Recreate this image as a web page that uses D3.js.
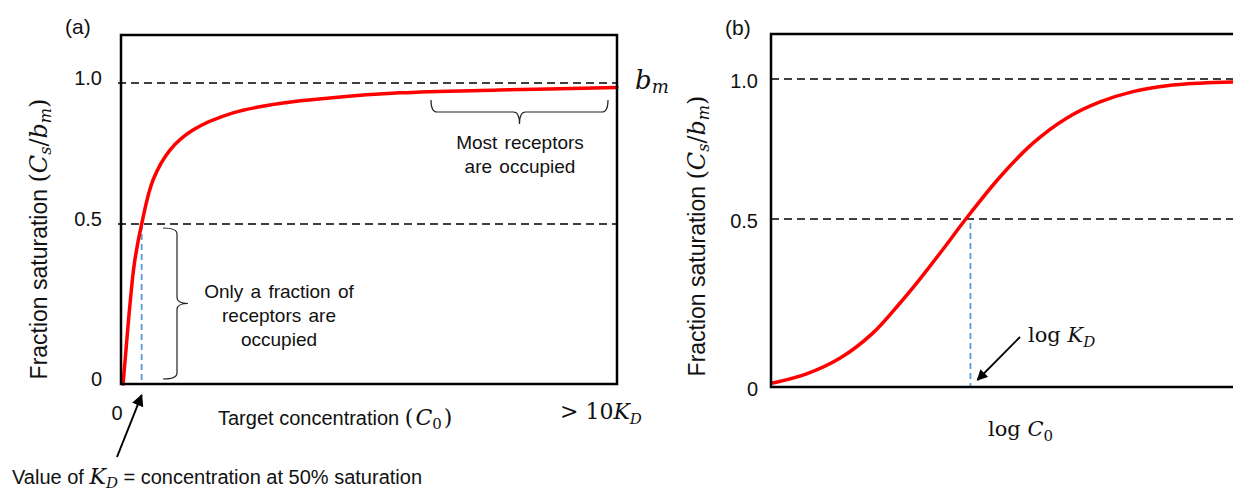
<!DOCTYPE html>
<html><head><meta charset="utf-8">
<script src="https://cdn.jsdelivr.net/npm/d3@7"></script>
<style>
html,body{margin:0;padding:0;background:#fff;}
svg{display:block;}
</style></head>
<body>
<svg id="c" width="1233" height="491"></svg>
<script>
// ---- data ----
const yTickValues = [0, 0.5, 1];
const yTickLabels = ["0", "0.5", "1.0"];
// panel (a): concentration in units of K_D vs fraction saturation
const curveA_x = [0.1, 0.27, 0.44, 0.65, 1.0, 1.55, 2.37, 3.48, 5.42, 7.84, 10.1, 13.5, 18.3, 24];
const curveA_y = [0, 0.128, 0.253, 0.378, 0.5, 0.656, 0.762, 0.833, 0.894, 0.929, 0.947, 0.965, 0.975, 0.984];
// panel (b): log C0 (relative to log K_D) vs fraction saturation
const curveB_x = [-1.47, -1.22, -0.97, -0.725, -0.524, -0.375, -0.204, -0.04, 0.22, 0.466, 0.719, 0.965, 1.21, 1.463, 1.71, 1.956];
const curveB_y = [0.012, 0.039, 0.086, 0.161, 0.25, 0.322, 0.41, 0.497, 0.65, 0.771, 0.861, 0.918, 0.955, 0.976, 0.985, 0.989];
const KD = 1;        // position of K_D in panel (a)
const logKD = 0;     // position of log K_D in panel (b)

const svg = d3.select("#c");
svg.append("rect").attr("width",1233).attr("height",491).attr("fill","#fff");
const SANS = "'Liberation Sans', Arial, sans-serif";
const SERIF = "'DejaVu Serif', 'Liberation Serif', serif";
const INK = "#111";

svg.append("defs").append("marker")
  .attr("id","arr").attr("viewBox","0 0 10 10").attr("refX",9).attr("refY",5)
  .attr("markerWidth",6).attr("markerHeight",6).attr("markerUnits","strokeWidth")
  .attr("orient","auto")
  .append("path").attr("d","M0,0 L10,5 L0,10 z").attr("fill","#000");

function braceH(x1, x2, y0, d, t, r){ // opens upward, tip points down
  const xm = (x1+x2)/2, y1 = y0+d;
  return `M${x1},${y0} Q${x1},${y1} ${x1+r},${y1} L${xm-r},${y1} Q${xm},${y1} ${xm},${y1+t} Q${xm},${y1} ${xm+r},${y1} L${x2-r},${y1} Q${x2},${y1} ${x2},${y0}`;
}
function braceV(y1, y2, x0, d, t, r){ // opens left, tip points right
  const ym = (y1+y2)/2, x1 = x0+d;
  return `M${x0},${y1} Q${x1},${y1} ${x1},${y1+r} L${x1},${ym-r} Q${x1},${ym} ${x1+t},${ym} Q${x1},${ym} ${x1},${ym+r} L${x1},${y2-r} Q${x1},${y2} ${x0},${y2}`;
}

function yLabel(g, cx, cy){
  const t = g.append("text").attr("transform",`translate(${cx},${cy}) rotate(-90)`)
    .attr("text-anchor","middle").attr("fill",INK);
  t.append("tspan").attr("font-family",SANS).attr("font-size",23).text("Fraction saturation ");
  t.append("tspan").attr("font-family",SERIF).attr("font-size",24).text("(");
  t.append("tspan").attr("font-family",SERIF).attr("font-size",24).attr("font-style","italic").text("C");
  t.append("tspan").attr("font-family",SERIF).attr("font-size",16).attr("font-style","italic").attr("dy",4).text("s");
  t.append("tspan").attr("font-family",SERIF).attr("font-size",24).attr("dy",-4).text("/");
  t.append("tspan").attr("font-family",SERIF).attr("font-size",24).attr("font-style","italic").text("b");
  t.append("tspan").attr("font-family",SERIF).attr("font-size",16).attr("font-style","italic").attr("dy",4).text("m");
  t.append("tspan").attr("font-family",SERIF).attr("font-size",24).attr("dy",-4).text(")");
}

// ================= Panel (a) =================
const xa = d3.scaleLinear().domain([0, 24]).range([121, 617]);
const ya = d3.scaleLinear().domain([0, 0.5, 1]).range([384, 224, 83]);
const ga = svg.append("g");

ga.selectAll(".ga").data([1, 0.5]).join("line")
  .attr("x1", xa(0)-3).attr("x2", xa(24)).attr("y1", d=>ya(d)).attr("y2", d=>ya(d))
  .attr("stroke","#000").attr("stroke-width",1.7).attr("stroke-dasharray","8,5");
ga.append("line").attr("x1",xa(KD)).attr("x2",xa(KD)).attr("y1",ya(0.5)).attr("y2",ya(0))
  .attr("stroke","#5b9bd5").attr("stroke-width",1.8).attr("stroke-dasharray","6,4");

const ptsA = curveA_x.map((x,i)=>[x, curveA_y[i]]);
ga.append("path").datum(ptsA)
  .attr("d", d3.line().x(d=>xa(d[0])).y(d=>ya(d[1])).curve(d3.curveCatmullRom.alpha(0.5)))
  .attr("fill","none").attr("stroke","#ff0000").attr("stroke-width",3.5).attr("stroke-linecap","round");

ga.append("rect").attr("x",xa(0)).attr("y",35).attr("width",xa(24)-xa(0)).attr("height",ya(0)-35)
  .attr("fill","none").attr("stroke","#000").attr("stroke-width",2.5);

const axA = ga.append("g").attr("transform",`translate(${xa(0)},0)`)
  .call(d3.axisLeft(ya).tickValues(yTickValues).tickFormat((d,i)=>yTickLabels[i]).tickSize(0).tickPadding(19));
axA.select(".domain").remove();
axA.selectAll("text").attr("font-family",SANS).attr("font-size",20).attr("fill",INK).attr("dy","0.05em");

yLabel(ga, 47, 239);

ga.append("text").attr("x",65).attr("y",34).attr("font-family",SANS).attr("font-size",21).attr("fill",INK).text("(a)");

ga.append("text").attr("x",xa(0)-4).attr("y",420).attr("text-anchor","middle")
  .attr("font-family",SANS).attr("font-size",20).attr("fill",INK).text("0");
const xt = ga.append("text").attr("x",218).attr("y",425).attr("fill",INK);
xt.append("tspan").attr("font-family",SANS).attr("font-size",20).text("Target concentration ");
xt.append("tspan").attr("font-family",SERIF).attr("font-size",22).attr("letter-spacing",2).text("(");
xt.append("tspan").attr("font-family",SERIF).attr("font-size",22).attr("font-style","italic").text("C");
xt.append("tspan").attr("font-family",SERIF).attr("font-size",15).attr("dy",4).attr("letter-spacing",2).text("0");
xt.append("tspan").attr("font-family",SERIF).attr("font-size",22).attr("dy",-4).text(")");

const xr = ga.append("text").attr("x",560).attr("y",419).attr("fill",INK).attr("font-family",SERIF);
xr.append("tspan").attr("font-size",22).text("> 10");
xr.append("tspan").attr("font-size",22).attr("font-style","italic").text("K");
xr.append("tspan").attr("font-size",15).attr("font-style","italic").attr("dy",5).text("D");

const bm = ga.append("text").attr("x",635).attr("y",89).attr("fill",INK).attr("font-family",SERIF).attr("font-style","italic");
bm.append("tspan").attr("font-size",26).text("b");
bm.append("tspan").attr("font-size",18).attr("dy",4).text("m");

ga.append("path").attr("d", braceH(431, 608, 100, 12, 12, 6))
  .attr("fill","none").attr("stroke","#222").attr("stroke-width",1.2);
ga.selectAll(".mr").data(["Most receptors","are occupied"]).join("text")
  .attr("x",520).attr("y",(d,i)=>149+i*24).attr("text-anchor","middle")
  .attr("font-family",SANS).attr("font-size",19).attr("word-spacing",2).attr("fill",INK).text(d=>d);

ga.append("path").attr("d", braceV(228, 379, 163, 14, 11, 6))
  .attr("fill","none").attr("stroke","#222").attr("stroke-width",1.2);
ga.selectAll(".of").data(["Only a fraction of","receptors are","occupied"]).join("text")
  .attr("x",279).attr("y",(d,i)=>298+i*24).attr("text-anchor","middle")
  .attr("font-family",SANS).attr("font-size",19).attr("word-spacing",2).attr("fill",INK).text(d=>d);

ga.append("line").attr("x1",117).attr("y1",457).attr("x2",xa(KD)).attr("y2",ya(0)+11)
  .attr("stroke","#000").attr("stroke-width",2).attr("marker-end","url(#arr)");
const vk = ga.append("text").attr("x",12).attr("y",484).attr("fill",INK);
vk.append("tspan").attr("font-family",SANS).attr("font-size",20).text("Value of ");
vk.append("tspan").attr("font-family",SERIF).attr("font-size",22).attr("font-style","italic").text("K");
vk.append("tspan").attr("font-family",SERIF).attr("font-size",15).attr("font-style","italic").attr("dy",4).text("D");
vk.append("tspan").attr("font-family",SANS).attr("font-size",20).attr("dy",-4).text(" = concentration at 50% saturation");

// ================= Panel (b) =================
const xb = d3.scaleLinear().domain([-1.5, 2]).range([769, 1239]);
const yb = d3.scaleLinear().domain([0, 0.5, 1]).range([387, 219, 79]);
const gb = svg.append("g");

gb.selectAll(".gb").data([1, 0.5]).join("line")
  .attr("x1", 771).attr("x2", 1233).attr("y1", d=>yb(d)).attr("y2", d=>yb(d))
  .attr("stroke","#000").attr("stroke-width",1.7).attr("stroke-dasharray","8,5");
gb.append("line").attr("x1",xb(logKD)).attr("x2",xb(logKD)).attr("y1",yb(0.5)+4).attr("y2",yb(0))
  .attr("stroke","#5b9bd5").attr("stroke-width",1.8).attr("stroke-dasharray","6,4");

const ptsB = curveB_x.map((x,i)=>[x, curveB_y[i]]);
gb.append("path").datum(ptsB)
  .attr("d", d3.line().x(d=>xb(d[0])).y(d=>yb(d[1])).curve(d3.curveCatmullRom.alpha(0.5)))
  .attr("fill","none").attr("stroke","#ff0000").attr("stroke-width",3.5).attr("stroke-linecap","round");

gb.append("path").attr("d",`M1245,34 L771,34 L771,${yb(0)} L1245,${yb(0)}`)
  .attr("fill","none").attr("stroke","#000").attr("stroke-width",2.5);

const axB = gb.append("g").attr("transform",`translate(771,0)`)
  .call(d3.axisLeft(yb).tickValues(yTickValues).tickFormat((d,i)=>yTickLabels[i]).tickSize(0).tickPadding(13));
axB.select(".domain").remove();
axB.selectAll("text").attr("font-family",SANS).attr("font-size",20).attr("fill",INK).attr("dy","0.4em");

yLabel(gb, 705, 236);
gb.append("text").attr("x",725).attr("y",35).attr("font-family",SANS).attr("font-size",21).attr("fill",INK).text("(b)");

const lc = gb.append("text").attr("x",988).attr("y",436).attr("fill",INK).attr("font-family",SERIF);
lc.append("tspan").attr("font-size",21).text("log ");
lc.append("tspan").attr("font-size",21).attr("font-style","italic").text("C");
lc.append("tspan").attr("font-size",15).attr("dy",5).text("0");

const lk = gb.append("text").attr("x",1028).attr("y",342).attr("fill",INK).attr("font-family",SERIF);
lk.append("tspan").attr("font-size",21).text("log ");
lk.append("tspan").attr("font-size",21).attr("font-style","italic").text("K");
lk.append("tspan").attr("font-size",15).attr("font-style","italic").attr("dy",5).text("D");

gb.append("line").attr("x1",1020).attr("y1",337).attr("x2",xb(logKD)+7).attr("y2",yb(0)-7)
  .attr("stroke","#000").attr("stroke-width",1.8).attr("marker-end","url(#arr)");
</script>
</body></html>
